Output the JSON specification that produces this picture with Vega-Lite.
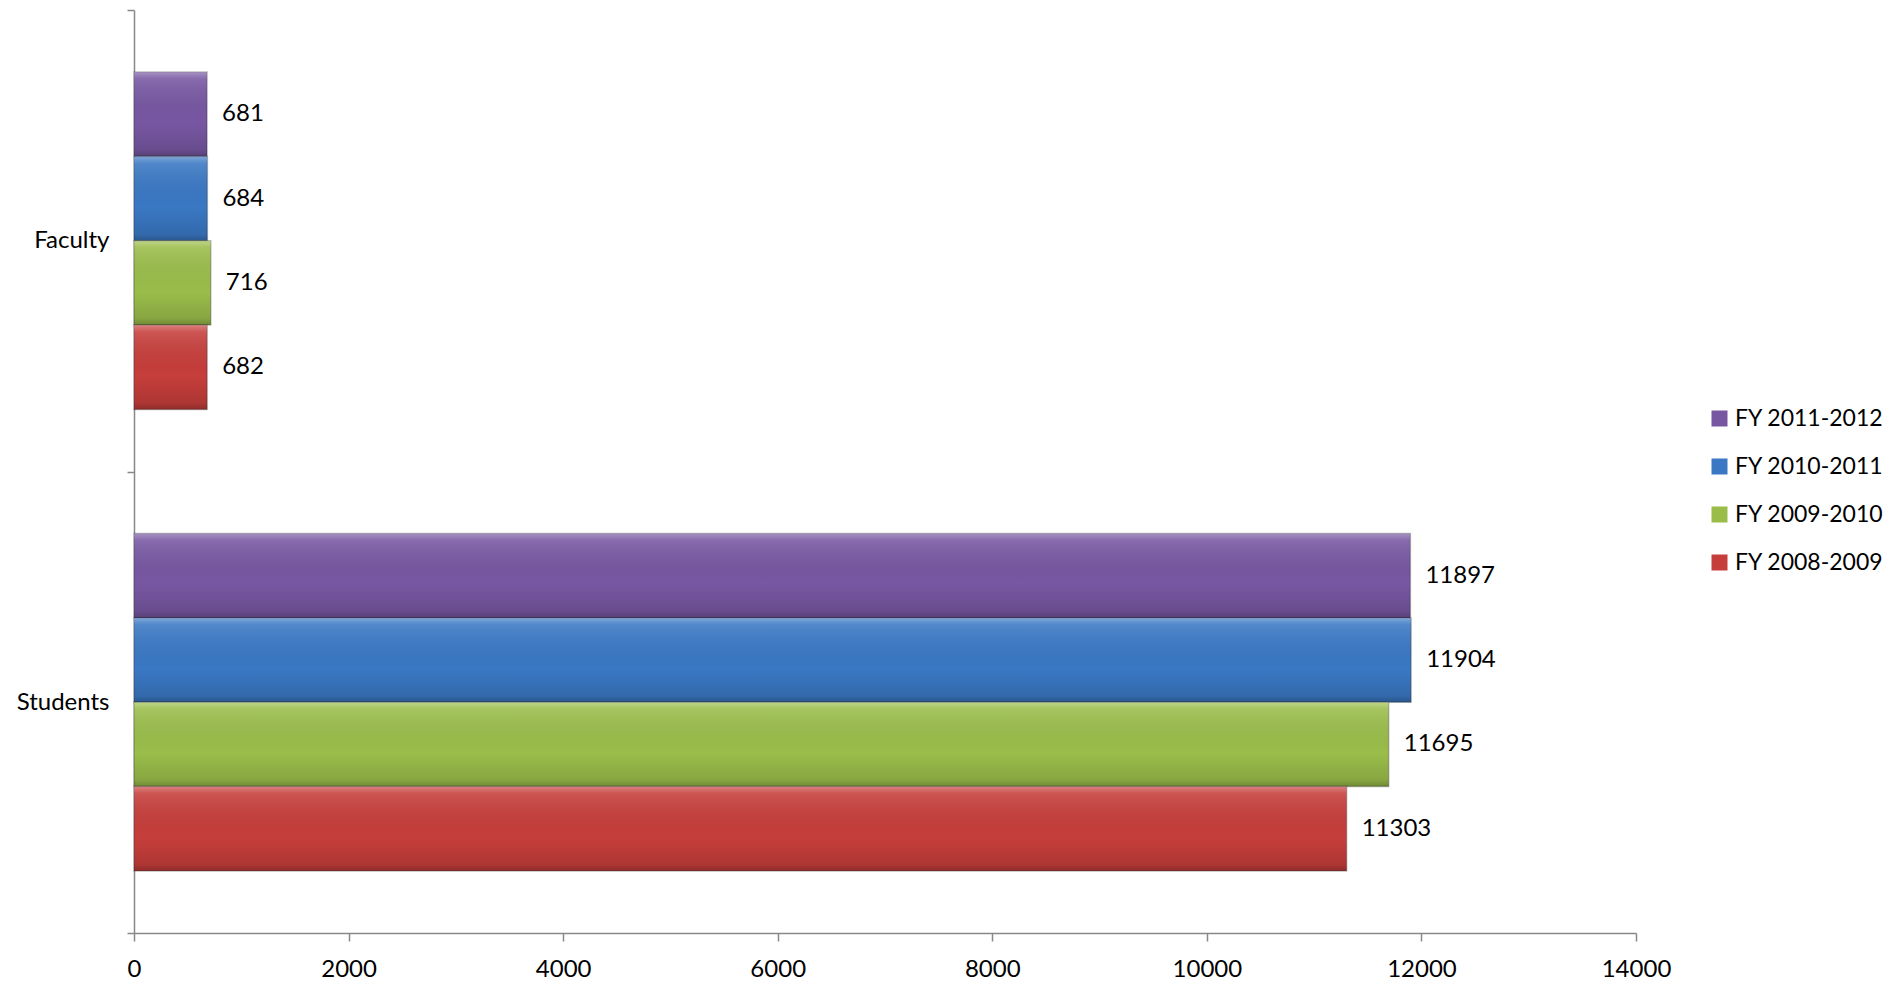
{
  "$schema": "https://vega.github.io/schema/vega-lite/v6.json",
  "width": 1502,
  "height": 923,
  "autosize": "none",
  "padding": {"left": 134, "top": 10, "right": 266, "bottom": 53},
  "background": "white",
  "config": {
    "view": {"stroke": null},
    "font": "Lato"
  },
  "data": {
    "values": [
      {"group": "Faculty", "year": "FY 2011-2012", "value": 681},
      {"group": "Faculty", "year": "FY 2010-2011", "value": 684},
      {"group": "Faculty", "year": "FY 2009-2010", "value": 716},
      {"group": "Faculty", "year": "FY 2008-2009", "value": 682},
      {"group": "Students", "year": "FY 2011-2012", "value": 11897},
      {"group": "Students", "year": "FY 2010-2011", "value": 11904},
      {"group": "Students", "year": "FY 2009-2010", "value": 11695},
      {"group": "Students", "year": "FY 2008-2009", "value": 11303}
    ]
  },
  "encoding": {
    "y": {
      "field": "group", "type": "nominal", "sort": ["Faculty", "Students"],
      "scale": {"paddingInner": 0, "paddingOuter": 0},
      "axis": {
        "title": null, "domainColor": "#888888", "domainWidth": 1.5, "tickColor": "#888888",
        "tickWidth": 1.5, "tickSize": 7, "tickBand": "extent", "labelFontSize": 24, "labelColor": "#000000",
        "labelPadding": 18, "labelFont": "Lato"
      }
    },
    "yOffset": {
      "field": "year", "type": "nominal",
      "sort": ["FY 2011-2012", "FY 2010-2011", "FY 2009-2010", "FY 2008-2009"],
      "scale": {"paddingInner": 0, "paddingOuter": 0.735}
    },
    "x": {
      "field": "value", "type": "quantitative",
      "scale": {"domain": [0, 14000], "nice": false},
      "axis": {
        "title": null, "values": [0, 2000, 4000, 6000, 8000, 10000, 12000, 14000], "format": "d",
        "grid": false, "domainColor": "#888888", "domainWidth": 1.5, "tickColor": "#888888",
        "tickWidth": 1.5, "tickSize": 8, "labelFontSize": 24, "labelColor": "#000000", "labelPadding": 16,
        "labelFont": "Lato", "labelFlush": false
      }
    }
  },
  "layer": [
    {
      "mark": {"type": "bar", "stroke": "#333333", "strokeOpacity": 0.3, "strokeWidth": 1.5},
      "encoding": {
        "color": {
          "field": "year", "type": "nominal",
          "scale": {
            "domain": ["FY 2011-2012", "FY 2010-2011", "FY 2009-2010", "FY 2008-2009"],
            "range": ["#7757A2", "#3A78C4", "#9ABD4A", "#C63E3B"]
          },
          "legend": {
            "title": null, "orient": "none", "legendX": 1574, "legendY": 397,
            "symbolType": "square", "symbolSize": 256, "symbolStrokeWidth": 0,
            "labelFontSize": 23, "labelColor": "#000000", "labelFont": "Lato", "rowPadding": 24,
            "labelOffset": 4
          }
        }
      }
    },
    {
      "mark": {
        "type": "bar",
        "fill": {
          "gradient": "linear", "x1": 0, "y1": 0, "x2": 0, "y2": 1,
          "stops": [
            {"offset": 0, "color": "rgba(255,255,255,0.35)"},
            {"offset": 0.08, "color": "rgba(255,255,255,0.12)"},
            {"offset": 0.6, "color": "rgba(0,0,0,0.0)"},
            {"offset": 0.92, "color": "rgba(0,0,0,0.12)"},
            {"offset": 1, "color": "rgba(0,0,0,0.28)"}
          ]
        }
      },
      "encoding": {}
    },
    {
      "mark": {"type": "text", "align": "left", "dx": 15, "fontSize": 24, "color": "#000000", "font": "Lato"},
      "encoding": {
        "text": {"field": "value", "type": "quantitative", "format": "d"}
      }
    }
  ]
}
